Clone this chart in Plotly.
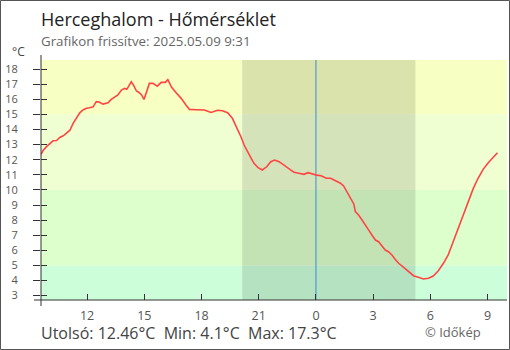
import plotly.graph_objects as go

# ---------------- data ----------------
times = [
    "2025-05-08 09:35", "2025-05-08 09:42", "2025-05-08 09:53", "2025-05-08 10:03", "2025-05-08 10:13",
    "2025-05-08 10:24", "2025-05-08 10:34", "2025-05-08 10:45", "2025-05-08 10:55", "2025-05-08 11:06",
    "2025-05-08 11:16", "2025-05-08 11:27", "2025-05-08 11:37", "2025-05-08 11:47", "2025-05-08 11:58",
    "2025-05-08 12:08", "2025-05-08 12:19", "2025-05-08 12:29", "2025-05-08 12:38", "2025-05-08 12:50",
    "2025-05-08 13:06", "2025-05-08 13:16", "2025-05-08 13:27", "2025-05-08 13:37", "2025-05-08 13:48",
    "2025-05-08 13:58", "2025-05-08 14:05", "2025-05-08 14:14", "2025-05-08 14:19", "2025-05-08 14:26",
    "2025-05-08 14:35", "2025-05-08 14:43", "2025-05-08 14:51", "2025-05-08 14:59", "2025-05-08 15:06",
    "2025-05-08 15:16", "2025-05-08 15:27", "2025-05-08 15:41", "2025-05-08 15:53", "2025-05-08 16:06",
    "2025-05-08 16:14", "2025-05-08 16:26", "2025-05-08 16:40", "2025-05-08 16:56", "2025-05-08 17:11",
    "2025-05-08 17:22", "2025-05-08 17:43", "2025-05-08 18:09", "2025-05-08 18:30", "2025-05-08 18:50",
    "2025-05-08 19:06", "2025-05-08 19:22", "2025-05-08 19:37", "2025-05-08 19:53", "2025-05-08 20:04",
    "2025-05-08 20:14", "2025-05-08 20:24", "2025-05-08 20:35", "2025-05-08 20:45", "2025-05-08 20:58",
    "2025-05-08 21:11", "2025-05-08 21:25", "2025-05-08 21:38", "2025-05-08 21:50", "2025-05-08 22:04",
    "2025-05-08 22:19", "2025-05-08 22:35", "2025-05-08 22:51", "2025-05-08 23:06", "2025-05-08 23:22",
    "2025-05-08 23:35", "2025-05-08 23:48", "2025-05-09 00:02", "2025-05-09 00:16", "2025-05-09 00:33",
    "2025-05-09 00:46", "2025-05-09 01:01", "2025-05-09 01:17", "2025-05-09 01:27", "2025-05-09 01:38",
    "2025-05-09 01:48", "2025-05-09 01:59", "2025-05-09 02:04", "2025-05-09 02:14", "2025-05-09 02:25",
    "2025-05-09 02:35", "2025-05-09 02:46", "2025-05-09 02:56", "2025-05-09 03:07", "2025-05-09 03:17",
    "2025-05-09 03:27", "2025-05-09 03:38", "2025-05-09 03:48", "2025-05-09 03:59", "2025-05-09 04:09",
    "2025-05-09 04:20", "2025-05-09 04:35", "2025-05-09 04:51", "2025-05-09 05:07", "2025-05-09 05:22",
    "2025-05-09 05:38", "2025-05-09 05:54", "2025-05-09 06:09", "2025-05-09 06:25", "2025-05-09 06:41",
    "2025-05-09 06:56", "2025-05-09 07:12", "2025-05-09 07:28", "2025-05-09 07:43", "2025-05-09 07:59",
    "2025-05-09 08:15", "2025-05-09 08:30", "2025-05-09 08:46", "2025-05-09 09:02", "2025-05-09 09:17",
    "2025-05-09 09:31",
]
temps = [
    12.35, 12.62, 12.88, 13.10, 13.25,
    13.27, 13.47, 13.58, 13.74, 13.95,
    14.40, 14.74, 15.10, 15.29, 15.40,
    15.44, 15.50, 15.84, 15.82, 15.68,
    15.77, 15.99, 16.13, 16.28, 16.61,
    16.72, 16.66, 17.05, 17.16, 16.94,
    16.56, 16.45, 16.30, 15.99, 16.39,
    17.05, 17.05, 16.87, 17.12, 17.12,
    17.30, 16.79, 16.43, 16.06, 15.62,
    15.33, 15.31, 15.29, 15.13, 15.27,
    15.24, 15.11, 14.74, 14.08, 13.52,
    12.97, 12.53, 12.13, 11.76, 11.47,
    11.32, 11.53, 11.87, 11.98, 11.87,
    11.65, 11.38, 11.16, 11.10, 11.03,
    11.14, 11.05, 10.98, 10.94, 10.77,
    10.77, 10.59, 10.44, 10.26, 9.88,
    9.44, 9.07, 8.56, 8.34, 8.01,
    7.72, 7.34, 7.01, 6.68, 6.57,
    6.29, 6.02, 5.91, 5.69, 5.41,
    5.14, 4.88, 4.58, 4.32, 4.21,
    4.10, 4.15, 4.30, 4.65, 5.14,
    5.69, 6.57, 7.46, 8.34, 9.22,
    10.10, 10.77, 11.36, 11.80, 12.16,
    12.46,
]
x_range = ["2025-05-08 09:35", "2025-05-09 10:01"]
y_range = [2.71, 18.60]
band_edges = [y_range[0], 5, 10, 15, y_range[1]]
band_colors = ["#ccffd9", "#ddffcc", "#f0ffd2", "#f7ffc3"]
night = ["2025-05-08 20:08", "2025-05-09 05:13"]
midnight = "2025-05-09 00:00"
tick0 = "2025-05-08 00:00"

title = "Herceghalom - Hőmérséklet"
subtitle = "Grafikon frissítve: 2025.05.09 9:31"
unit = "°C"
footer = "Utolsó: 12.46°C  Min: 4.1°C  Max: 17.3°C"
credit = "© Időkép"

# ---------------- layout geometry ----------------
W, H = 510, 350
ML, MR, MT, MB = 41, 3, 60, 50
PW, PH = W - ML - MR, H - MT - MB


def px(x):
    return (x - ML) / PW


def py(y):
    return (H - MB - y) / PH


FONT = "Open Sans"

fig = go.Figure()
fig.add_trace(go.Scatter(
    x=times, y=temps, mode="lines",
    line=dict(color="#ff4444", width=1.6),
    hoverinfo="skip", showlegend=False,
))
# companion trace for the inner tick marks axis
fig.add_trace(go.Scatter(
    x=times, y=temps, mode="lines", yaxis="y2",
    line=dict(color="rgba(0,0,0,0)", width=0),
    hoverinfo="skip", showlegend=False,
))

shapes = []
for i, c in enumerate(band_colors):
    shapes.append(dict(type="rect", xref="paper", yref="y", x0=0, x1=1,
                       y0=band_edges[i], y1=band_edges[i + 1],
                       fillcolor=c, line=dict(width=0), layer="below"))
shapes.append(dict(type="rect", xref="x", yref="paper", x0=night[0], x1=night[1],
                   y0=0, y1=1, fillcolor="rgba(0,0,0,0.11)", line=dict(width=0), layer="below"))
shapes.append(dict(type="line", xref="x", yref="paper", x0=midnight, x1=midnight,
                   y0=0, y1=1, line=dict(color="#3a8cd0", width=1), layer="below"))
# axis lines (extending slightly past the corner)
shapes.append(dict(type="line", xref="paper", yref="paper", x0=0, x1=0,
                   y0=py(306), y1=py(55), line=dict(color="#333", width=1)))
shapes.append(dict(type="line", xref="paper", yref="paper", x0=px(34), x1=1,
                   y0=0, y1=0, line=dict(color="#333", width=1)))
# outer frame
shapes.append(dict(type="rect", xref="paper", yref="paper",
                   x0=px(0.5), x1=px(509.5), y0=py(349.5), y1=py(0.5),
                   line=dict(color="#555", width=1), fillcolor="rgba(0,0,0,0)"))

annotations = [
    dict(text=title, x=px(39), y=py(18.5), xanchor="left", yanchor="middle",
         font=dict(family=FONT, size=18, color="#222")),
    dict(text=subtitle, x=px(39), y=py(41), xanchor="left", yanchor="middle",
         font=dict(family=FONT, size=13.3, color="#666")),
    dict(text=unit, x=px(10), y=py(52), xanchor="left", yanchor="middle",
         font=dict(family=FONT, size=12, color="#444")),
    dict(text=footer, x=px(39), y=py(333), xanchor="left", yanchor="middle",
         font=dict(family=FONT, size=16, color="#444")),
    dict(text=credit, x=px(423), y=py(332), xanchor="left", yanchor="middle",
         font=dict(family=FONT, size=13, color="#666")),
]
for a in annotations:
    a.update(xref="paper", yref="paper", showarrow=False)

fig.update_layout(
    width=W, height=H,
    margin=dict(l=ML, r=MR, t=MT, b=MB, pad=0),
    paper_bgcolor="white", plot_bgcolor="white",
    shapes=shapes, annotations=annotations,
    showlegend=False, hovermode=False,
    font=dict(family=FONT, color="#555"),
    xaxis=dict(
        type="date", range=x_range, showgrid=False, zeroline=False, showline=False,
        tick0=tick0, dtick=3 * 3600 * 1000, tickformat="%-H",
        ticks="inside", ticklen=6, tickcolor="#333", tickwidth=1,
        tickfont=dict(family=FONT, size=12.5, color="#555"),
        ticklabelstandoff=6,
    ),
    yaxis=dict(
        range=y_range, showgrid=False, zeroline=False, showline=False,
        tick0=0, dtick=1, ticks="outside", ticklen=7, tickcolor="#333", tickwidth=1,
        tickfont=dict(family=FONT, size=11, color="#555"),
        ticklabelstandoff=13,
    ),
    yaxis2=dict(
        range=y_range, overlaying="y", side="left", showgrid=False, zeroline=False,
        showline=False, tick0=0, dtick=1, ticks="inside", ticklen=6,
        tickcolor="#333", tickwidth=1, showticklabels=False,
    ),
)

fig.write_html("out.html")
